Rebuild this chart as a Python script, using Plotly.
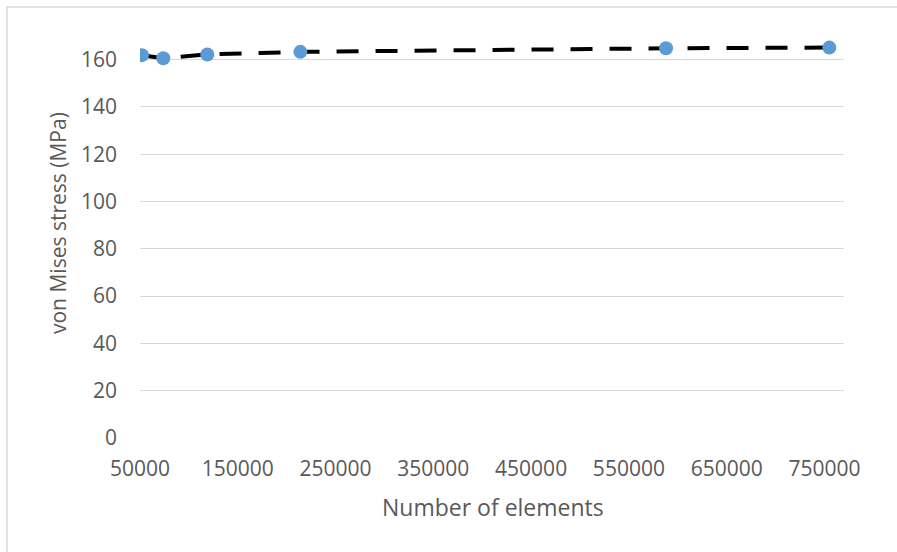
import plotly.graph_objects as go

elements = [52000, 73800, 118800, 214000, 588000, 755000]
stress = [161.9, 160.6, 162.2, 163.3, 164.8, 165.1]

x_ticks = [50000, 150000, 250000, 350000, 450000, 550000, 650000, 750000]
y_ticks = [0, 20, 40, 60, 80, 100, 120, 140, 160]

x_title = "Number of elements"
y_title = "von Mises stress (MPa)"

W, H = 897, 552
L, R, T, B = 140, 53, 36, 114

fig = go.Figure()
fig.add_trace(go.Scatter(
    x=elements, y=stress, mode="lines+markers",
    line=dict(color="black", width=4, dash="22px,17px"),
    marker=dict(size=14, color="#5B9BD5"),
    showlegend=False,
))

fam = "Open Sans, Liberation Sans, sans-serif"
font = dict(family=fam, size=21, color="#595959")

fig.update_layout(
    width=W, height=H,
    margin=dict(l=L, r=R, t=T, b=B, autoexpand=False),
    paper_bgcolor="white", plot_bgcolor="white",
    font=font,
    xaxis=dict(
        range=[50000, 770000], tickvals=x_ticks, ticktext=[str(v) for v in x_ticks],
        showgrid=False, zeroline=False, showline=False, ticks="",
        ticklabelstandoff=16, automargin=False,
    ),
    yaxis=dict(
        range=[0, 170], tickvals=y_ticks, ticktext=[str(v) for v in y_ticks],
        showgrid=True, gridcolor="#D9D9D9", gridwidth=1.3, zeroline=False,
        showline=False, ticks="", ticklabelstandoff=22, automargin=False,
    ),
)

pw = W - L - R
ph = H - T - B
def px_x(p):
    return (p - L) / pw
def px_y(p):
    return (H - B - p) / ph

fig.add_annotation(
    text=x_title, xref="paper", yref="paper", x=px_x(492.5), y=px_y(507),
    xanchor="center", yanchor="middle", showarrow=False,
    font=dict(family=fam, size=23, color="#595959"),
)
fig.add_annotation(
    text=y_title, xref="paper", yref="paper", x=px_x(58), y=px_y(223),
    xanchor="center", yanchor="middle", showarrow=False, textangle=-90,
    font=dict(family=fam, size=21, color="#595959"),
)

fig.add_shape(
    type="rect", xref="paper", yref="paper",
    x0=px_x(7), x1=px_x(W + 5),
    y0=px_y(H + 5), y1=px_y(7),
    line=dict(color="#D9D9D9", width=1.5), fillcolor="rgba(0,0,0,0)", layer="below",
)

fig.write_html(
    "out.html",
    config={"displayModeBar": False},
    post_script="document.body.style.margin='0';document.body.style.overflow='hidden';",
)
